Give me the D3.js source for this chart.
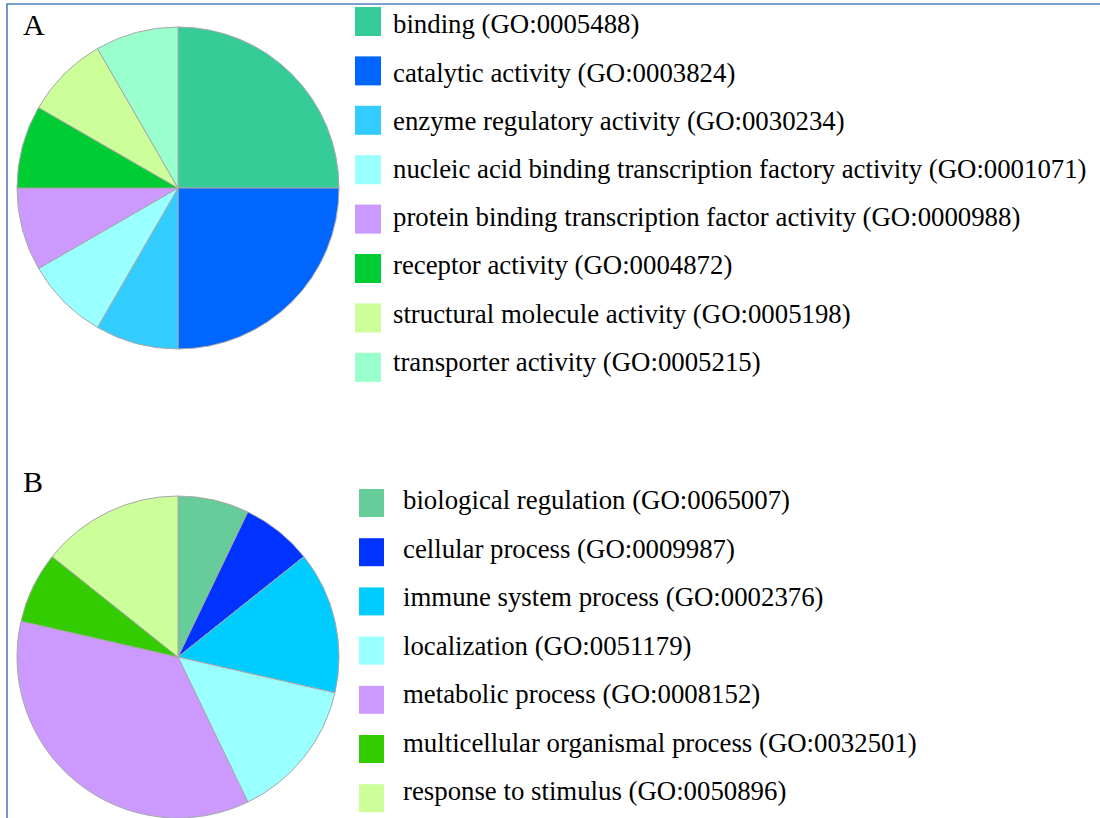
<!DOCTYPE html>
<html>
<head>
<meta charset="utf-8">
<script src="https://cdn.jsdelivr.net/npm/d3@7/dist/d3.min.js"></script>
<style>
  html, body { margin: 0; padding: 0; background: #ffffff; }
  svg { display: block; }
  text { font-family: "Liberation Serif", "Times New Roman", serif; fill: #000; }
</style>
</head>
<body>
<svg id="chart" width="1100" height="818"></svg>
<script>
// Panel A: molecular function terms
const termsA = [
  "binding (GO:0005488)",
  "catalytic activity (GO:0003824)",
  "enzyme regulatory activity (GO:0030234)",
  "nucleic acid binding transcription factory activity (GO:0001071)",
  "protein binding transcription factor activity (GO:0000988)",
  "receptor activity (GO:0004872)",
  "structural molecule activity (GO:0005198)",
  "transporter activity (GO:0005215)"
];
const countsA = [3, 3, 1, 1, 1, 1, 1, 1];
const colorsA = ["#36cc98", "#0066ff", "#33ccff", "#99ffff", "#cc99ff", "#00cc33", "#ccff99", "#99ffcc"];

// Panel B: biological process terms
const termsB = [
  "biological regulation (GO:0065007)",
  "cellular process (GO:0009987)",
  "immune system process (GO:0002376)",
  "localization (GO:0051179)",
  "metabolic process (GO:0008152)",
  "multicellular organismal process (GO:0032501)",
  "response to stimulus (GO:0050896)"
];
const countsB = [1, 1, 2, 2, 5, 1, 2];
const colorsB = ["#66cc99", "#0033ff", "#00ccff", "#99ffff", "#cc99ff", "#33cc00", "#ccff99"];

const svg = d3.select("#chart");

// frame along the top and left edges
svg.append("path")
  .attr("d", "M7,818 V4 H1100")
  .attr("fill", "none")
  .attr("stroke", "#4f81bd")
  .attr("stroke-width", 1.6);

const radius = 161;
const pie = d3.pie().sort(null).value(d => d);
const arc = d3.arc().innerRadius(0).outerRadius(radius);

function panel(opts) {
  const g = svg.append("g");

  g.append("text")
    .attr("x", opts.labelX)
    .attr("y", opts.labelY)
    .attr("font-size", 30)
    .text(opts.label);

  const color = d3.scaleOrdinal().domain(opts.terms).range(opts.colors);

  const pg = g.append("g").attr("transform", `translate(${opts.cx},${opts.cy})`);
  pg.selectAll("path")
    .data(pie(opts.counts))
    .join("path")
    .attr("d", arc)
    .attr("fill", (d, i) => color(opts.terms[i]))
    .attr("stroke", "#a8a8a8")
    .attr("stroke-width", 1);

  const lg = g.append("g");
  lg.selectAll("rect")
    .data(opts.terms)
    .join("rect")
    .attr("x", opts.boxX)
    .attr("y", (d, i) => opts.boxY + i * opts.boxStep)
    .attr("width", opts.boxW)
    .attr("height", opts.boxH)
    .attr("fill", d => color(d));

  lg.selectAll("text")
    .data(opts.terms)
    .join("text")
    .attr("x", opts.textX)
    .attr("y", (d, i) => opts.textY + i * opts.textStep)
    .attr("font-size", 26.8)
    .text(d => d);
}

panel({
  label: "A", labelX: 23, labelY: 35,
  terms: termsA, counts: countsA, colors: colorsA,
  cx: 178, cy: 188,
  boxX: 355, boxY: 7, boxStep: 49.4, boxW: 26, boxH: 29,
  textX: 393, textY: 33.3, textStep: 48.2
});

panel({
  label: "B", labelX: 23, labelY: 491.5,
  terms: termsB, counts: countsB, colors: colorsB,
  cx: 178, cy: 657,
  boxX: 359, boxY: 489, boxStep: 49.2, boxW: 25, boxH: 28,
  textX: 403, textY: 509.3, textStep: 48.45
});
</script>
</body>
</html>
